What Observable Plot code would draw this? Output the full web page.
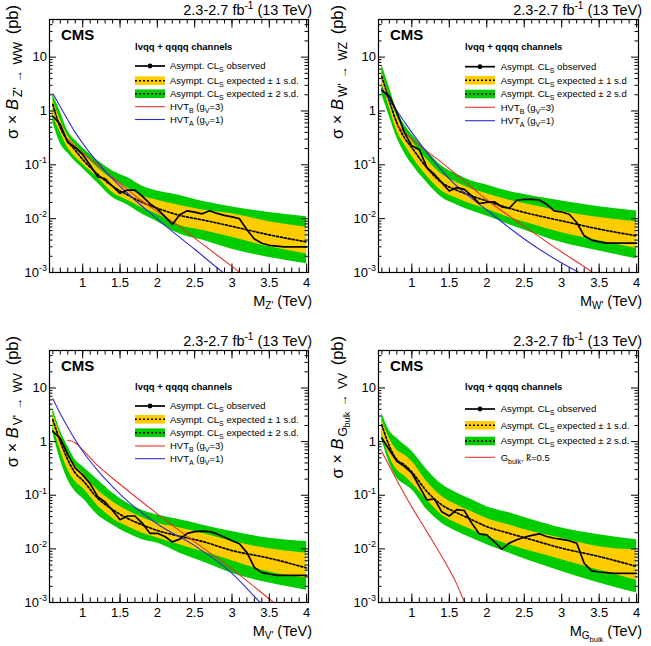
<!DOCTYPE html>
<html>
<head>
<meta charset="utf-8">
<script src="https://cdn.jsdelivr.net/npm/d3@7"></script>
<script src="https://cdn.jsdelivr.net/npm/@observablehq/plot@0.6"></script>
<style>
  body { margin: 0; background: #fff; }
  #page { position: relative; width: 651px; height: 646px; font-family: "Liberation Sans", Arial, Helvetica, sans-serif; }
  #page svg { position: absolute; overflow: visible; }
  #page text { white-space: pre; }
</style>
</head>
<body>
<div id="page"></div>
<script>
// ---------------- data (cross section limits in pb vs resonance mass in TeV) ----------------
const massObs = [0.6, 0.7, 0.8, 0.9, 1.0, 1.1, 1.2, 1.3, 1.4, 1.5, 1.6, 1.7, 1.8, 1.9, 2.0, 2.1, 2.2, 2.3,
                 2.4, 2.5, 2.6, 2.7, 2.8, 2.9, 3.0, 3.1, 3.2, 3.3, 3.4, 3.5, 3.6, 3.7, 3.8, 3.9, 4.0];
const massExp = [0.6, 0.7, 0.8, 0.9, 1.0, 1.2, 1.4, 1.6, 1.8, 2.0, 2.3, 2.6, 3.0, 3.5, 4.0];

// Z' -> WW
const obsZWW = [0.80, 0.56, 0.26, 0.21, 0.155, 0.098, 0.060, 0.055, 0.040, 0.0296, 0.034, 0.034, 0.026, 0.019,
                0.0151, 0.011, 0.0078, 0.0118, 0.014, 0.0132, 0.0123, 0.014, 0.0125, 0.0115, 0.0108, 0.0100,
                0.0062, 0.0042, 0.0035, 0.0032, 0.0031, 0.0030, 0.0030, 0.0030, 0.0030];
const zwwM2  = [0.62, 0.25, 0.165, 0.115, 0.085, 0.046, 0.0246, 0.018, 0.0121, 0.0088, 0.0052, 0.0040, 0.0027, 0.0019, 0.00145];
const zwwM1  = [0.80, 0.40, 0.208, 0.14, 0.102, 0.058, 0.0305, 0.022, 0.0157, 0.0121, 0.0075, 0.0061, 0.0045, 0.0030, 0.0022];
const zwwMed = [1.32, 0.49, 0.277, 0.186, 0.126, 0.067, 0.040, 0.0276, 0.020, 0.0156, 0.0115, 0.0095, 0.0072, 0.0050, 0.0037];
const zwwP1  = [1.60, 0.69, 0.343, 0.233, 0.168, 0.0885, 0.054, 0.0377, 0.0264, 0.022, 0.0175, 0.0145, 0.0123, 0.0088, 0.0069];
const zwwP2  = [2.03, 0.97, 0.425, 0.285, 0.208, 0.12, 0.077, 0.058, 0.040, 0.0327, 0.027, 0.021, 0.0165, 0.0130, 0.0108];
const hvtBZWWMass = [0.8, 0.9, 1.0, 1.2, 1.5, 1.8, 2.0, 2.3, 2.6, 3.0, 3.2];
const hvtBZWW     = [0.30, 0.22, 0.165, 0.098, 0.045, 0.021, 0.0135, 0.0071, 0.0034, 0.0013, 0.0008];
const hvtAZWWMass = [0.6, 0.7, 0.8, 0.9, 1.0, 1.2, 1.5, 2.0, 2.5, 2.88, 3.0];
const hvtAZWW     = [2.1, 1.2, 0.68, 0.40, 0.25, 0.11, 0.040, 0.0098, 0.0027, 0.001, 0.00075];

// W' -> WZ
const obsWWZ = [2.4, 1.89, 0.95, 0.40, 0.225, 0.19, 0.09, 0.0667, 0.0467, 0.0327, 0.0377, 0.035, 0.0264, 0.0191,
                0.020, 0.0206, 0.0166, 0.0156, 0.022, 0.0229, 0.0229, 0.0223, 0.0185, 0.0139, 0.0133, 0.0121,
                0.0085, 0.0048, 0.0040, 0.0037, 0.0035, 0.0035, 0.0035, 0.0035, 0.0035];
const wzM2  = [2.03, 0.80, 0.32, 0.168, 0.102, 0.0467, 0.0246, 0.018, 0.0139, 0.0112, 0.0077, 0.0055, 0.0036, 0.0025, 0.0018];
const wzM1  = [3.3, 1.15, 0.425, 0.24, 0.145, 0.062, 0.0327, 0.024, 0.0185, 0.015, 0.0105, 0.0079, 0.0055, 0.0039, 0.0028];
const wzMed = [4.4, 1.53, 0.60, 0.32, 0.208, 0.0885, 0.0467, 0.0337, 0.0264, 0.0213, 0.0156, 0.0121, 0.0091, 0.0064, 0.0048];
const wzP1  = [5.5, 1.9, 0.80, 0.45, 0.277, 0.126, 0.0667, 0.0467, 0.035, 0.029, 0.022, 0.018, 0.0136, 0.0105, 0.0088];
const wzP2  = [7.3, 2.7, 1.04, 0.56, 0.37, 0.18, 0.095, 0.0667, 0.050, 0.0422, 0.0318, 0.0264, 0.0213, 0.0166, 0.0139];
const hvtBWWZMass = [0.8, 0.9, 1.0, 1.2, 1.5, 1.8, 2.0, 2.5, 3.0, 3.41, 3.5];
const hvtBWWZ     = [0.55, 0.40, 0.30, 0.18, 0.085, 0.038, 0.0225, 0.0072, 0.0024, 0.001, 0.0008];
const hvtAWWZMass = [0.6, 0.7, 0.8, 0.9, 1.0, 1.2, 1.5, 2.0, 2.5, 3.0, 3.23, 3.4];
const hvtAWWZ     = [2.6, 1.6, 1.0, 0.63, 0.40, 0.17, 0.055, 0.0145, 0.0042, 0.0015, 0.001, 0.00072];

// V' -> WV
const obsVWV = [1.55, 1.15, 0.57, 0.32, 0.24, 0.165, 0.094, 0.075, 0.052, 0.035, 0.041, 0.041, 0.030, 0.0195,
                0.0195, 0.017, 0.0135, 0.0152, 0.0195, 0.021, 0.0215, 0.021, 0.019, 0.0165, 0.0142, 0.0125,
                0.0085, 0.0045, 0.0036, 0.0034, 0.0032, 0.0032, 0.0032, 0.0032, 0.0032];
const wvM2  = [1.45, 0.46, 0.195, 0.118, 0.088, 0.043, 0.028, 0.0195, 0.0148, 0.0128, 0.0083, 0.0058, 0.0035, 0.0023, 0.0017];
const wvM1  = [1.93, 0.70, 0.30, 0.181, 0.136, 0.064, 0.037, 0.026, 0.0195, 0.016, 0.0119, 0.0089, 0.006, 0.0037, 0.00285];
const wvMed = [2.56, 1.0, 0.46, 0.26, 0.19, 0.088, 0.054, 0.037, 0.028, 0.022, 0.0172, 0.0138, 0.0093, 0.0067, 0.0044];
const wvP1  = [3.4, 1.34, 0.62, 0.355, 0.26, 0.125, 0.076, 0.052, 0.038, 0.030, 0.0245, 0.0195, 0.0138, 0.010, 0.0083];
const wvP2  = [4.2, 1.6, 0.82, 0.46, 0.345, 0.195, 0.11, 0.071, 0.052, 0.043, 0.035, 0.028, 0.021, 0.0158, 0.0137];
const hvtBVWVMass = [0.8, 0.85, 0.9, 1.0, 1.2, 1.5, 2.0, 2.5, 3.0, 3.56, 3.7];
const hvtBVWV     = [1.05, 1.03, 0.95, 0.70, 0.36, 0.16, 0.045, 0.0135, 0.0042, 0.001, 0.0007];
const hvtAVWVMass = [0.6, 0.7, 0.8, 0.9, 1.0, 1.2, 1.5, 2.0, 2.5, 3.0, 3.38, 3.5];
const hvtAVWV     = [6.3, 3.3, 1.85, 1.08, 0.66, 0.29, 0.105, 0.029, 0.0115, 0.0035, 0.001, 0.0007];

// G_bulk -> VV
const obsGVV = [1.16, 0.70, 0.43, 0.345, 0.26, 0.146, 0.082, 0.085, 0.049, 0.041, 0.054, 0.052, 0.030, 0.0191,
                0.0183, 0.0137, 0.0099, 0.0128, 0.0148, 0.0165, 0.0178, 0.0191, 0.017, 0.0158, 0.015, 0.0142,
                0.0128, 0.0054, 0.0039, 0.0037, 0.0036, 0.0035, 0.0035, 0.0035, 0.0035];
const gvM2  = [1.1, 0.40, 0.21, 0.16, 0.127, 0.054, 0.030, 0.021, 0.0157, 0.0119, 0.0083, 0.0058, 0.0038, 0.0023, 0.0015];
const gvM1  = [1.45, 0.53, 0.30, 0.23, 0.17, 0.082, 0.043, 0.030, 0.0227, 0.017, 0.0119, 0.0089, 0.0063, 0.0040, 0.0026];
const gvMed = [2.05, 0.82, 0.46, 0.37, 0.27, 0.118, 0.066, 0.047, 0.035, 0.026, 0.0195, 0.0148, 0.0103, 0.0072, 0.0047];
const gvP1  = [2.56, 1.16, 0.70, 0.57, 0.43, 0.18, 0.095, 0.066, 0.049, 0.037, 0.028, 0.021, 0.0158, 0.011, 0.0095];
const gvP2  = [3.4, 1.6, 1.16, 0.87, 0.66, 0.30, 0.16, 0.11, 0.082, 0.061, 0.047, 0.035, 0.0245, 0.0183, 0.0148];
const gbulkMass = [0.6, 0.7, 0.8, 0.9, 1.0, 1.2, 1.4, 1.6, 1.7, 1.8];
const gbulkXS   = [0.65, 0.35, 0.19, 0.105, 0.06, 0.021, 0.0072, 0.0022, 0.00105, 0.0007];

// axis ticks
const xMajor = [1, 1.5, 2, 2.5, 3, 3.5, 4];
const xMinor = d3.range(6, 41).map(k => k / 10);
const yMajor = [0.001, 0.01, 0.1, 1, 10];
const yMinor = [-3, -2, -1, 0, 1].flatMap(e => [2, 3, 4, 5, 6, 7, 8, 9].map(k => k * 10 ** e)).filter(v => v <= 50);
const yMajorLabels = [["10", "-3"], ["10", "-2"], ["10", "-1"], ["1", ""], ["10", ""]];

// ---------------- styling ----------------
const GREEN = "#00cc00", YELLOW = "#ffcc00", RED = "#e3342f", BLUE = "#2f2fd0";
const FONT = '"Liberation Sans", Arial, Helvetica, sans-serif';

function rich(parent, segs, attrs) {
  const t = parent.append("text").attr("font-family", FONT).attr("fill", "#000").attr("text-anchor", "start");
  for (const [k, v] of Object.entries(attrs)) t.attr(k, v);
  let prev = 0;
  for (const s of segs) {
    const sh = s.sh || 0;
    const ts = t.append("tspan").text(s.t).attr("font-size", s.s);
    if (sh !== prev) ts.attr("dy", sh - prev);
    if (s.dx) ts.attr("dx", s.dx);
    if (s.it) ts.attr("font-style", "italic");
    if (s.b) ts.attr("font-weight", "bold");
    prev = sh;
  }
  return t;
}

const CLs = (rest) => [{t: "Asympt. CL", s: 9.5}, {t: "S", s: 7, sh: 3}, {t: rest, s: 9.5}];
const hvt = (sub, g) => [{t: "HVT", s: 9.5}, {t: sub, s: 7, sh: 3}, {t: " (g", s: 9.5}, {t: "V", s: 7, sh: 3}, {t: "=" + g + ")", s: 9.5}];
const arrowSub = (from, to) => [{t: from, s: 12, sh: 4, dx: 2}, {t: " \u2192 ", s: 12, sh: 4, dx: 2}, {t: to, s: 12, sh: 4, dx: 2}];

const panels = [
  {
    left: 0, top: 0, width: 325, height: 323, ml: 49, mr: 17, mt: 19, mb: 51,
    obs: obsZWW, band: [zwwM2, zwwM1, zwwMed, zwwP1, zwwP2],
    theory: [[hvtBZWWMass, hvtBZWW, RED], [hvtAZWWMass, hvtAZWW, BLUE]],
    ysub: arrowSub("Z'", "WW"),
    xsub: [{t: "Z'", s: 10, sh: 3.5}],
    legend: {x: 135, tx: 170, ty: 50, rows: [
      ["obs", 66, CLs(" observed")], ["b1", 80.7, CLs(" expected \u00b1 1 s.d.")], ["b2", 93.7, CLs(" expected \u00b1 2 s.d.")],
      [RED, 106.7, hvt("B", 3)], [BLUE, 119.5, hvt("A", 1)]]}
  },
  {
    left: 325, top: 0, width: 326, height: 323, ml: 53, mr: 13, mt: 19, mb: 51,
    obs: obsWWZ, band: [wzM2, wzM1, wzMed, wzP1, wzP2],
    theory: [[hvtBWWZMass, hvtBWWZ, RED], [hvtAWWZMass, hvtAWWZ, BLUE]],
    ysub: arrowSub("W'", "WZ"),
    xsub: [{t: "W'", s: 10, sh: 3.5}],
    legend: {x: 140, tx: 175.7, ty: 50, rows: [
      ["obs", 66.7, CLs(" observed")], ["b1", 80.3, CLs(" expected \u00b1 1 s.d")], ["b2", 94, CLs(" expected \u00b1 2 s.d")],
      [RED, 107.3, hvt("B", 3)], [BLUE, 120.7, hvt("A", 1)]]}
  },
  {
    left: 0, top: 323, width: 325, height: 323, ml: 49, mr: 17, mt: 27, mb: 44,
    obs: obsVWV, band: [wvM2, wvM1, wvMed, wvP1, wvP2],
    theory: [[hvtBVWVMass, hvtBVWV, RED], [hvtAVWVMass, hvtAVWV, BLUE]],
    ysub: arrowSub("V'", "WV"),
    xsub: [{t: "V'", s: 10, sh: 3.5}],
    legend: {x: 135, tx: 170, ty: 59, rows: [
      ["obs", 75, CLs(" observed")], ["b1", 88.3, CLs(" expected \u00b1 1 s.d.")], ["b2", 101.7, CLs(" expected \u00b1 2 s.d.")],
      [RED, 115, hvt("B", 3)], [BLUE, 127.7, hvt("A", 1)]]}
  },
  {
    left: 325, top: 323, width: 326, height: 323, ml: 53, mr: 13, mt: 27, mb: 44,
    obs: obsGVV, band: [gvM2, gvM1, gvMed, gvP1, gvP2],
    theory: [[gbulkMass, gbulkXS, RED]],
    ysub: [{t: "G", s: 12, sh: 4, dx: 2}, {t: "bulk", s: 8.5, sh: 7}, {t: " \u2192 ", s: 12, sh: 4, dx: 2}, {t: "VV", s: 12, sh: 4, dx: 2}],
    xsub: [{t: "G", s: 10, sh: 3.5}, {t: "bulk", s: 7.5, sh: 6.5}],
    legend: {x: 140, tx: 175.7, ty: 59, rows: [
      ["obs", 78, CLs(" observed")], ["b1", 94.3, CLs(" expected \u00b1 1 s.d.")], ["b2", 110, CLs(" expected \u00b1 2 s.d.")],
      [RED, 126.3, [{t: "G", s: 9.5}, {t: "bulk", s: 7, sh: 3}, {t: ", k\u0303=0.5", s: 9.5}]]]}
  }
];

const page = d3.select("#page");

function drawPanel(p) {
  const iw = p.width - p.ml - p.mr, ih = p.height - p.mt - p.mb;
  const obs = massObs.map((m, i) => ({m, v: p.obs[i]}));
  const band = massExp.map((m, i) => ({m, m2: p.band[0][i], m1: p.band[1][i], med: p.band[2][i], p1: p.band[3][i], p2: p.band[4][i]}));
  const theoryMarks = p.theory.map(([ms, vs, c]) =>
    Plot.line(ms.map((m, i) => ({m, v: vs[i]})), {x: "m", y: "v", stroke: c, strokeWidth: 1.1, curve: "monotone-x", clip: true}));

  const plot = Plot.plot({
    width: p.width, height: p.height,
    marginLeft: p.ml, marginRight: p.mr, marginTop: p.mt, marginBottom: p.mb,
    style: {background: "transparent", fontFamily: FONT, overflow: "visible"},
    x: {domain: [0.555, 4.025], axis: null},
    y: {type: "log", domain: [0.001, 50], axis: null},
    marks: [
      Plot.areaY(band, {x: "m", y1: "m2", y2: "p2", fill: GREEN, curve: "monotone-x", clip: true}),
      Plot.areaY(band, {x: "m", y1: "m1", y2: "p1", fill: YELLOW, curve: "monotone-x", clip: true}),
      Plot.line(band, {x: "m", y: "med", stroke: "#000", strokeWidth: 1.7, strokeDasharray: "2,2", curve: "monotone-x", clip: true}),
      ...theoryMarks,
      Plot.line(obs, {x: "m", y: "v", stroke: "#000", strokeWidth: 1.7, clip: true}),
      // inward ticks on all four sides
      Plot.tickX(xMinor, {x: d => d, insetTop: ih - 4.5, stroke: "#000"}),
      Plot.tickX(xMajor, {x: d => d, insetTop: ih - 8.5, stroke: "#000"}),
      Plot.tickX(xMinor, {x: d => d, insetBottom: ih - 4.5, stroke: "#000"}),
      Plot.tickX(xMajor, {x: d => d, insetBottom: ih - 8.5, stroke: "#000"}),
      Plot.tickY(yMinor, {y: d => d, insetRight: iw - 3.5, stroke: "#000"}),
      Plot.tickY(yMajor, {y: d => d, insetRight: iw - 7, stroke: "#000"}),
      Plot.tickY(yMinor, {y: d => d, insetLeft: iw - 3.5, stroke: "#000"}),
      Plot.tickY(yMajor, {y: d => d, insetLeft: iw - 7, stroke: "#000"}),
      Plot.frame({stroke: "#000", strokeWidth: 1.2}),
      Plot.text(xMajor, {x: d => d, frameAnchor: "bottom", lineAnchor: "top", dy: 5.5, text: d => String(d), fontSize: 13, fill: "#000"})
    ]
  });
  plot.style.left = p.left + "px";
  plot.style.top = p.top + "px";
  page.node().appendChild(plot);

  const svg = d3.select(plot);
  const ys = plot.scale("y");
  const fx = p.ml;

  // decade labels on the y axis
  yMajor.forEach((v, i) => {
    const [base, exp] = yMajorLabels[i];
    const segs = [{t: base, s: 13}];
    if (exp) segs.push({t: exp, s: 9, sh: -5.5});
    rich(svg, segs, {x: fx - 2, y: ys.apply(v) + 4.6, "text-anchor": "end"});
  });

  // y axis title
  const yg = svg.append("g").attr("transform", `translate(17.5, ${p.mt - 14}) rotate(-90)`);
  rich(yg, [{t: "\u03c3 \u00d7 ", s: 16.5}, {t: "B", s: 16.5, it: true}, ...p.ysub, {t: " (pb)", s: 16.5, sh: 0, dx: 3}], {"text-anchor": "end"});

  // x axis title
  rich(svg, [{t: "M", s: 14.5}, ...p.xsub, {t: " (TeV)", s: 14.5, sh: 0}],
       {x: p.width - p.mr + 4, y: p.height - p.mb + 33.5, "text-anchor": "end"});

  // luminosity label
  rich(svg, [{t: "2.3-2.7 fb", s: 14.5}, {t: "-1", s: 10, sh: -5.5}, {t: " (13 TeV)", s: 14.5, sh: 0}],
       {x: p.width - p.mr + 4, y: p.mt - 4.5, "text-anchor": "end"});

  // experiment label
  rich(svg, [{t: "CMS", s: 15, b: true}], {x: fx + 12, y: p.mt + 21});

  // legend
  const L = p.legend;
  const lg = svg.append("g").attr("transform", `translate(${fx}, ${p.mt})`);
  rich(lg, [{t: "lvqq + qqqq channels", s: 9.5, b: true}], {x: L.x - fx, y: L.ty - 19});
  L.rows.forEach(([kind, cy, label]) => {
    const y = cy - 19, x0 = L.x - fx, x1 = x0 + 30;
    if (kind === "obs") {
      lg.append("line").attr("x1", x0).attr("x2", x1).attr("y1", y).attr("y2", y).attr("stroke", "#000").attr("stroke-width", 1.7);
      lg.append("circle").attr("cx", (x0 + x1) / 2).attr("cy", y).attr("r", 2.4).attr("fill", "#000");
    } else if (kind === "b1" || kind === "b2") {
      lg.append("rect").attr("x", x0).attr("y", y - 4.3).attr("width", 30).attr("height", 8.6)
        .attr("fill", kind === "b1" ? YELLOW : GREEN);
      lg.append("line").attr("x1", x0).attr("x2", x1).attr("y1", y).attr("y2", y)
        .attr("stroke", "#000").attr("stroke-width", 1.5).attr("stroke-dasharray", "2,2");
    } else {
      lg.append("line").attr("x1", x0).attr("x2", x1).attr("y1", y).attr("y2", y).attr("stroke", kind).attr("stroke-width", 1.1);
    }
    rich(lg, label, {x: L.tx - fx, y: y + 3.3});
  });
}

panels.forEach(drawPanel);
</script>
</body>
</html>
